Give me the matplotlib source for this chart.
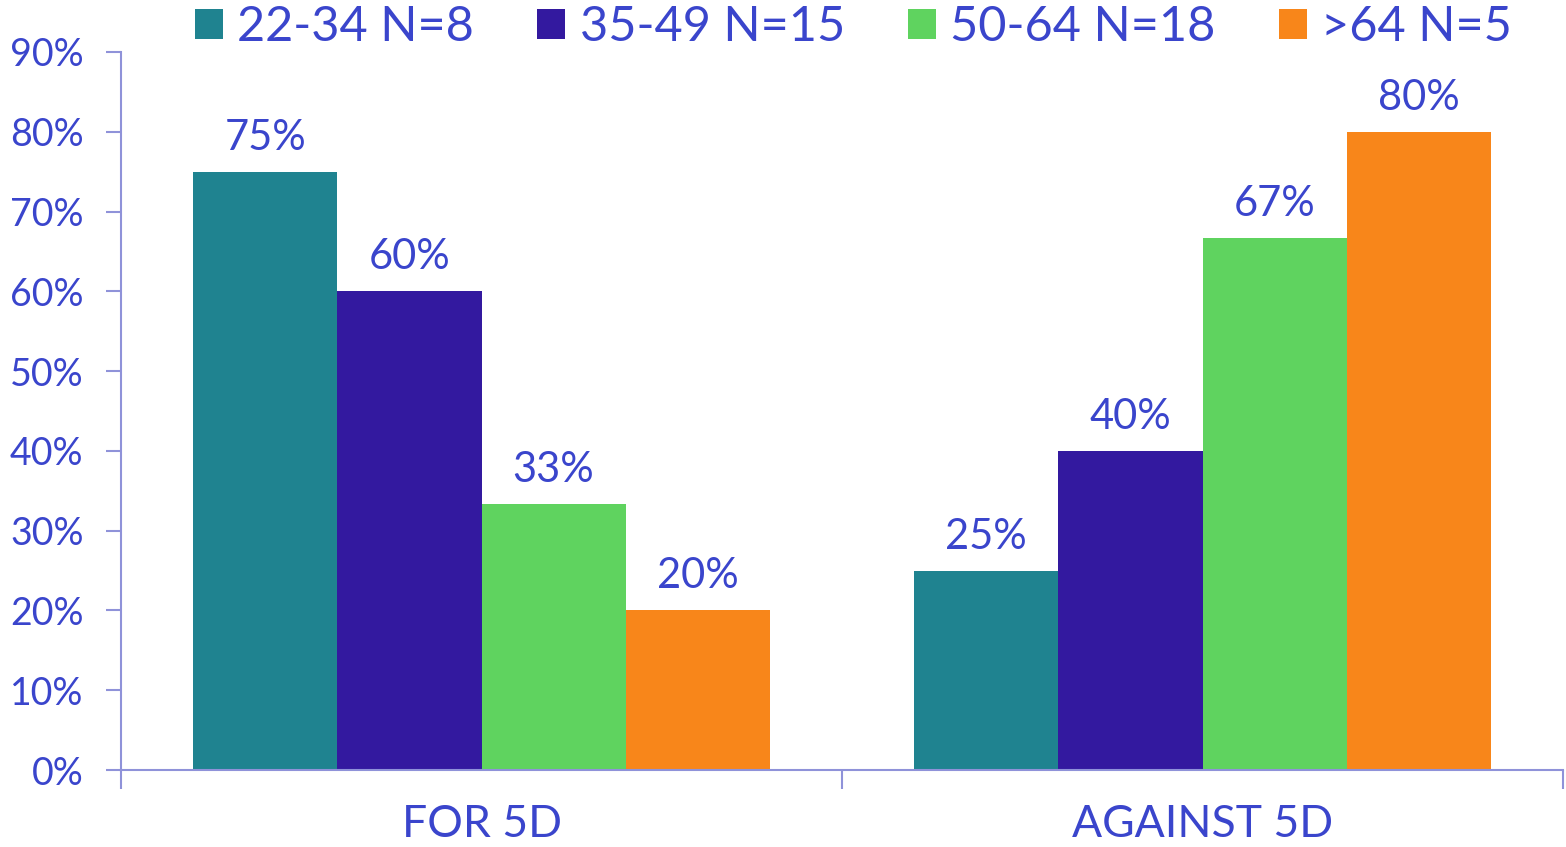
import numpy as np
import matplotlib.pyplot as plt
from matplotlib.ticker import FuncFormatter

categories = ["FOR 5D", "AGAINST 5D"]
series_names = ["22-34 N=8", "35-49 N=15", "50-64 N=18", ">64 N=5"]
for_5d = [75, 60, 33.3, 20]
against_5d = [25, 40, 66.7, 80]
value_labels_for = ["75%", "60%", "33%", "20%"]
value_labels_against = ["25%", "40%", "67%", "80%"]

colors = ["#1F8390", "#33199F", "#5FD35F", "#F8861A"]
text_color = "#3A45CC"
spine_color = "#8F92D9"

plt.rcParams['font.family'] = ['Lato', 'DejaVu Sans']

fig = plt.figure(figsize=(15.66, 8.47), dpi=100)
ax = fig.add_axes([121 / 1566, 77 / 847, 1442 / 1566, 718 / 847])

x = np.arange(len(categories))
width = 0.2
for i, name in enumerate(series_names):
    vals = [for_5d[i], against_5d[i]]
    labels = [value_labels_for[i], value_labels_against[i]]
    pos = x + (i - 1.5) * width
    bars = ax.bar(pos, vals, width, color=colors[i], label=name, zorder=2)
    for b, lab in zip(bars, labels):
        ax.annotate(lab, xy=(b.get_x() + b.get_width() / 2, b.get_height()),
                    xytext=(0, 22), textcoords="offset pixels",
                    ha="center", va="baseline", fontsize=30, color=text_color)

ax.set_xlim(-0.5, 1.5)
ax.set_ylim(0, 90)
ax.set_yticks(np.arange(0, 91, 10))
ax.yaxis.set_major_formatter(FuncFormatter(lambda v, p: f"{int(v)}%"))
ax.set_xticks([-0.5, 0.5, 1.5])
ax.set_xticklabels(["", "", ""])

# category names under each group
for xi, cat in zip(x, categories):
    ax.annotate(cat, xy=(xi, 0), xycoords=("data", "axes fraction"),
                xytext=(0, -67), textcoords="offset pixels",
                ha="center", va="baseline", fontsize=32, color=text_color)

for side in ["top", "right"]:
    ax.spines[side].set_visible(False)
for side in ["left", "bottom"]:
    ax.spines[side].set_color(spine_color)
    ax.spines[side].set_linewidth(1.5)

ax.tick_params(axis="y", direction="out", length=11, width=1.5,
               color=spine_color, labelsize=27, labelcolor=text_color, pad=16)
ax.tick_params(axis="x", direction="out", length=14, width=1.5,
               color=spine_color)

fig.legend(loc="upper center", bbox_to_anchor=(0.545, 1.0), ncol=4, frameon=False,
           fontsize=35, labelcolor=text_color, handlelength=0.58, handleheight=0.58,
           handletextpad=0.29, columnspacing=1.3, borderaxespad=0, borderpad=0.1)

fig.savefig("out.png", dpi=100)
